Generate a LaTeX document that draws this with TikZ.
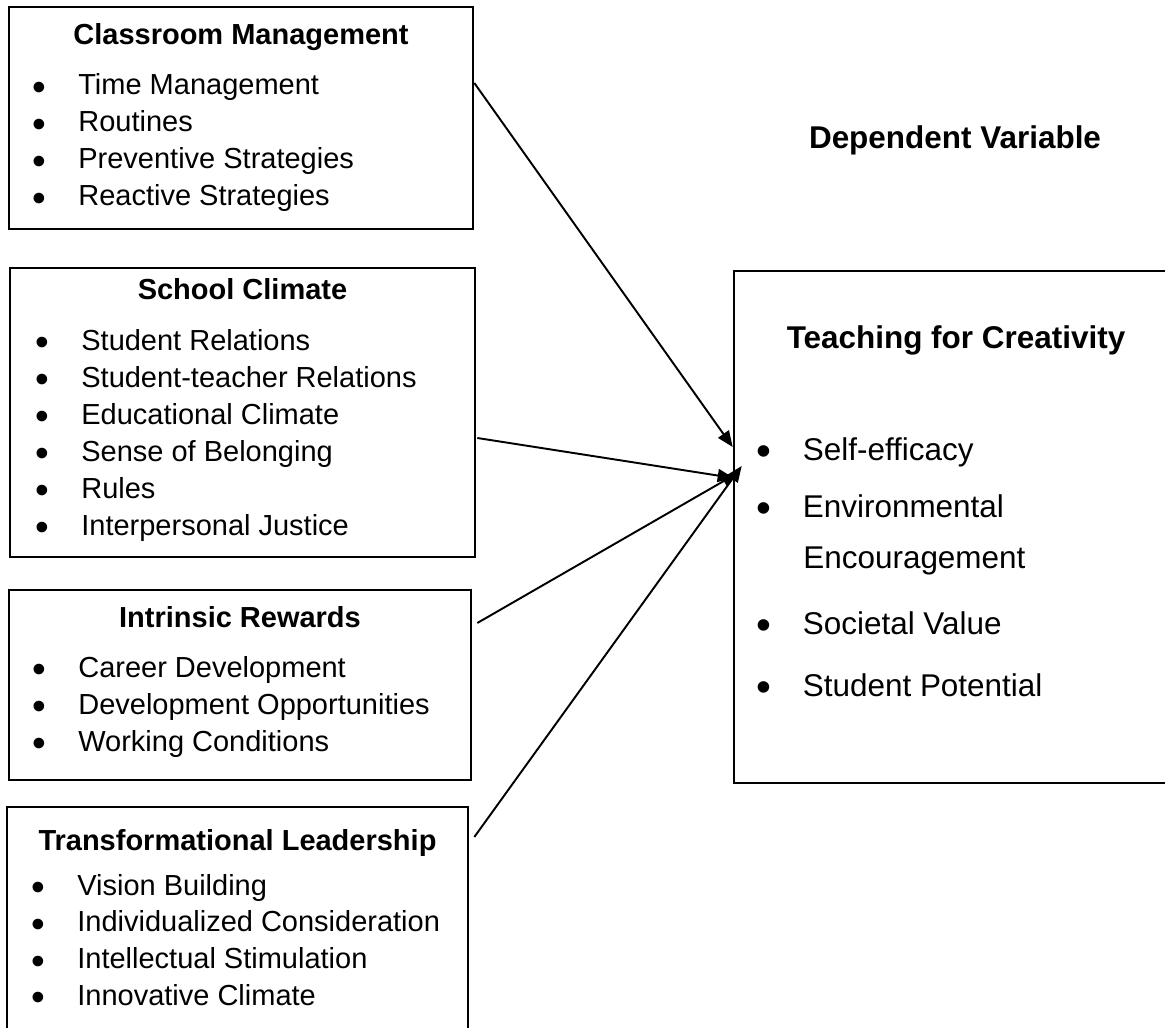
\documentclass[tikz,border=0pt]{standalone}
\usepackage{fontspec}
\setmainfont{Liberation Sans}
\usetikzlibrary{positioning,arrows.meta}
\tikzset{%
  box/.style={draw, rectangle, line width=1.5pt, inner sep=0pt},% frame of a block
  head/.style={anchor=base, inner sep=0pt, font=\fontsize{16.5}{20}\selectfont\bfseries},% block title
  item/.style={anchor=base west, inner sep=0pt, font=\fontsize{16.5}{20}\selectfont},% bullet line
  bighead/.style={head, font=\fontsize{17.9}{22}\selectfont\bfseries},
  bigitem/.style={item, font=\fontsize{17.9}{22}\selectfont},
  link/.style={line width=1.1pt, -{Triangle[length=3.2mm, width=2.6mm]}}% block -> outcome
}
% bigger, lower bullet than the font's own
\newcommand*{\bul}[1]{\makebox[0.92cm][l]{\raisebox{-0.19em}{\scalebox{1.35}{\textbullet}}}#1}

\begin{document}
\begin{tikzpicture}
\useasboundingbox (0,0) rectangle (23.3,-20.56);

% frames
\node[box, minimum width=9.28cm, minimum height=4.44cm] (cm) at (4.82, -2.36) {};
\node[box, minimum width=9.30cm, minimum height=5.78cm] (sc) at (4.85, -8.25) {};
\node[box, minimum width=9.24cm, minimum height=3.80cm] (ir) at (4.80,-13.70) {};
\node[box, minimum width=9.22cm, minimum height=4.76cm] (tl) at (4.75,-18.52) {};
\node[box, minimum width=8.72cm, minimum height=10.24cm] (tc) at (19.04,-10.54) {};

% titles
\node[head] (cm-t) at (4.82, -0.90) {Classroom Management};
\node[head] (sc-t) at (4.85, -6.00) {School Climate};
\node[head] (ir-t) at (4.80,-12.54) {Intrinsic Rewards};
\node[head] (tl-t) at (4.75,-17.00) {Transformational Leadership};
\node[bighead] (dv) at (19.10, -2.98) {Dependent Variable};
\node[bighead] (tc-t) at (19.12, -6.96) {Teaching for Creativity};

% bullet lists
\foreach \t [count=\i from 0] in {Time Management, Routines, Preventive Strategies, Reactive Strategies}
  \node[item] (cm-\i) at (0.64, -1.90 - 0.74*\i) {\bul{\t}};
\foreach \t [count=\i from 0] in {Student Relations, Student-teacher Relations, Educational Climate,
    Sense of Belonging, Rules, Interpersonal Justice}
  \node[item] (sc-\i) at (0.70, -7.00 - 0.74*\i) {\bul{\t}};
\foreach \t [count=\i from 0] in {Career Development, Development Opportunities, Working Conditions}
  \node[item] (ir-\i) at (0.64,-13.54 - 0.74*\i) {\bul{\t}};
\foreach \t [count=\i from 0] in {Vision Building, Individualized Consideration, Intellectual Stimulation,
    Innovative Climate}
  \node[item] (tl-\i) at (0.62,-17.90 - 0.735*\i) {\bul{\t}};

\node[bigitem] (tc-0) at (15.13, -9.20) {\bul{Self-efficacy}};
\node[bigitem] (tc-1) at (15.13,-10.34) {\bul{Environmental}};
\node[bigitem] (tc-1b) at (16.06,-11.36) {Encouragement};
\node[bigitem] (tc-2) at (15.13,-12.68) {\bul{Societal Value}};
\node[bigitem] (tc-3) at (15.13,-13.92) {\bul{Student Potential}};

% arrows into the outcome block
\draw[link] ([yshift=0.70cm]cm.east) -- ([yshift=1.60cm]tc.west);
\draw[link] ([xshift=0.02cm, yshift=-0.51cm]sc.east) -- ([xshift=0.02cm, yshift=0.98cm]tc.west);
\draw[link] ([xshift=0.10cm, yshift=1.24cm]ir.east) -- ([xshift=0.10cm, yshift=1.08cm]tc.west);
\draw[link] ([xshift=0.10cm, yshift=1.78cm]tl.east) -- ([xshift=0.18cm, yshift=1.22cm]tc.west);

\end{tikzpicture}
\end{document}
